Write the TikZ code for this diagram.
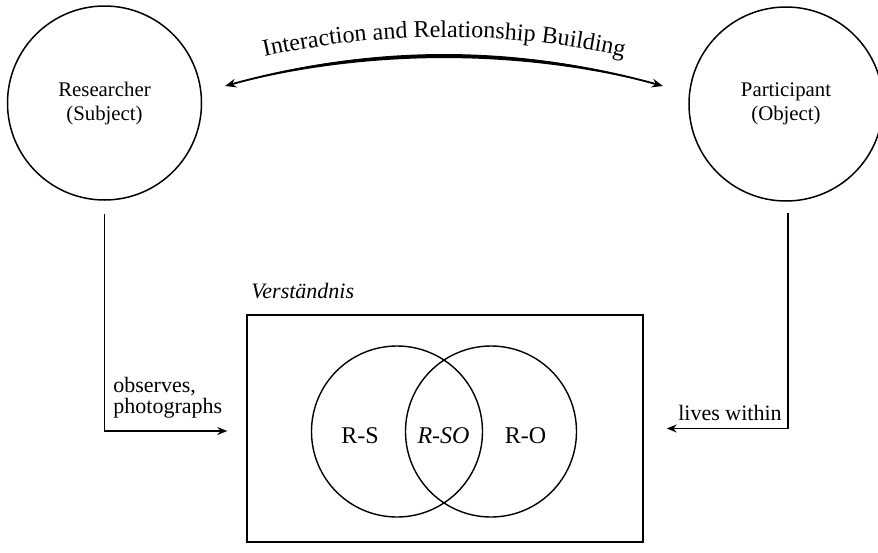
\documentclass[tikz,border=0pt]{standalone}
\usepackage{fontspec}
\setmainfont{Liberation Serif}
\usetikzlibrary{arrows.meta,decorations.text}

\newcommand\ArcLabelFont{\fontsize{12}{14}\selectfont}

\tikzset{arctip/.tip={Stealth[length=5.5pt,width=4.4pt,inset=1.8pt]}}

\begin{document}
\begin{tikzpicture}[x=0.5pt,y=-0.5pt,
  bigcircle/.style={circle, draw, line width=0.75pt, minimum size=97pt,
    inner sep=0pt, align=center, font=\fontsize{10.4}{12}\selectfont},
  venn/.style={circle, draw, line width=0.7pt, minimum size=85.5pt, inner sep=0pt},
  frame/.style={rectangle, draw, line width=0.7pt, minimum width=198pt,
    minimum height=113.5pt, inner sep=0pt},
  vennlbl/.style={font=\fontsize{12}{14}\selectfont, inner sep=0pt, anchor=base},
  lbl/.style={font=\fontsize{11}{10.5}\selectfont, inner sep=0pt},
  link/.style={draw, line width=0.65pt, -{Stealth[length=5pt,width=4pt]}}]

\useasboundingbox (0,0) rectangle (878,552);

% the two actors
\node[bigcircle] (res) at (104.5,103) {Researcher\\(Subject)};
\node[bigcircle] (par) at (786,104) {Participant\\(Object)};

% two-way arc between them: a thin arrowed arc plus a lens that thickens its middle
\coordinate (ac) at (444,870);
\coordinate (arcL) at ([shift={(-105.6:814)}]ac);
\draw[line width=0.9pt, arctip-arctip]
  (arcL) arc[start angle=-105.6, end angle=-74.4, radius=814];
\fill (arcL) arc[start angle=-106.63, end angle=-73.37, radius=765.4]
  arc[start angle=-75.43, end angle=-104.57, radius=870.4] -- cycle;
\path[decorate, decoration={text along path, text align=center,
    text={|\ArcLabelFont|Interaction and Relationship Building}}]
  ([shift={(-112:833)}]ac) arc[start angle=-112, end angle=-68, radius=833];

% shared understanding box with the Venn diagram
\node[frame] (box) at (445,428.5) {};
\node[lbl, anchor=base west, font=\fontsize{11}{13}\selectfont\itshape] (vtitle) at (251,298) {Verständnis};
\node[venn] (rs) at (397,431.5) {};
\node[venn] (ro) at (491,431.5) {};
\node[vennlbl] (lrs) at (360,443) {R-S};
\node[vennlbl, font=\fontsize{12}{14}\selectfont\itshape] (lrso) at (443.5,443) {R-SO};
\node[vennlbl] (lro) at (525.5,443) {R-O};

% connectors into the box
\draw[link, shorten <=6.5pt, shorten >=9.5pt]
  (res.south) |- ([yshift=-1.25pt]box.west);
\draw[link, shorten <=5.5pt, shorten >=11.5pt]
  ([xshift=1pt]par.south) |- (box.east);

\node[lbl, anchor=south west, align=left] (obs) at (113,419) {observes,\\photographs};
\node[lbl, anchor=base east] (lives) at (782,420) {lives within};

\end{tikzpicture}
\end{document}
